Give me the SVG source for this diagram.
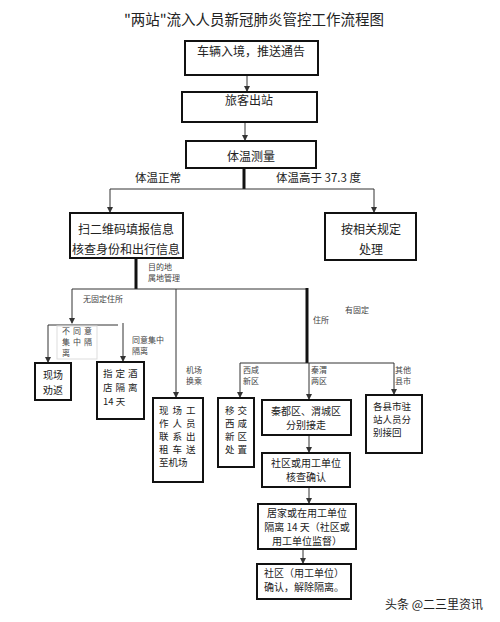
<svg xmlns="http://www.w3.org/2000/svg" width="500" height="622" viewBox="0 0 500 622">
<defs>
<marker id="ah" markerWidth="6" markerHeight="6" refX="5" refY="3" orient="auto" markerUnits="userSpaceOnUse">
<path d="M0,0 L6,3 L0,6 Z" fill="#333"/>
</marker>
<style>
.box{fill:#fff;stroke:#111;stroke-width:2}
.t{font-family:"Noto Sans CJK SC","Liberation Sans",sans-serif;fill:#222}
.m{font-size:12px;text-anchor:middle}
.s{font-size:10px;text-anchor:middle}
.sl{font-size:9.5px;text-anchor:start}
.l{font-size:8px;fill:#444}
.c{fill:none;stroke:#333;stroke-width:1}
.a{marker-end:url(#ah)}
.k{fill:none;stroke:#111;stroke-width:3}
</style>
</defs>
<rect width="500" height="622" fill="#fff"/>
<text class="t" x="254" y="25" font-size="14.5" text-anchor="middle">"两站"流入人员新冠肺炎管控工作流程图</text>

<g id="connectors">
<path class="c a" d="M247,75 V91"/>
<path class="c a" d="M245,122 V140"/>
<path class="k" d="M244,168 V189"/>
<path class="c" d="M110,189 H374"/>
<path class="c a" d="M110,189 V212"/>
<path class="c a" d="M374,189 V212"/>
<path class="k" d="M136,258 V289"/>
<path class="c" d="M72,289 H307"/>
<path class="c a" d="M72,289 V323"/>
<path class="c" d="M48,325 H118"/>
<path class="c a" d="M48,325 V362"/>
<path class="c a" d="M123,323 V361"/>
<path class="c a" d="M176,289 V397"/>
<path class="k" d="M307,288 V363"/>
<path class="c" d="M240,363 H394"/>
<path class="c a" d="M240,363 V397"/>
<path class="c a" d="M309,363 V399"/>
<path class="c a" d="M394,363 V394"/>
<path class="c a" d="M309,435 V452"/>
<path class="c a" d="M309,487 V503"/>
<path class="c a" d="M303,549 V563"/>
<rect x="57" y="326" width="40" height="33" fill="none" stroke="#ddd" stroke-width="1"/>
</g>

<g id="labels">
<text class="t" x="135" y="182" font-size="11.5">体温正常</text>
<text class="t" x="276" y="182" font-size="11.5">体温高于 37.3 度</text>
<text class="t l" x="148" y="270">目的地<tspan x="148" dy="11">属地管理</tspan></text>
<text class="t l" x="83" y="302">无固定住所</text>
<text class="t l" x="345" y="313">有固定</text>
<text class="t l" x="313" y="323">住所</text>
<text class="t l" x="62" y="334" letter-spacing="3">不同意<tspan x="62" dy="11">集中隔</tspan><tspan x="62" dy="11">离</tspan></text>
<text class="t l" x="132" y="343">同意集中<tspan x="132" dy="11">隔离</tspan></text>
<text class="t l" x="186" y="373">机场<tspan x="186" dy="11">换乘</tspan></text>
<text class="t l" x="243" y="373">西咸<tspan x="243" dy="11">新区</tspan></text>
<text class="t l" x="311" y="373">秦渭<tspan x="311" dy="11">两区</tspan></text>
<text class="t l" x="395" y="373">其他<tspan x="395" dy="11">县市</tspan></text>
</g>

<g id="n1"><rect class="box" x="185" y="41" width="133" height="34"/><text class="t m" x="251" y="56">车辆入境，推送通告</text></g>
<g id="n2"><rect class="box" x="182" y="92" width="135" height="30"/><text class="t m" x="249" y="105">旅客出站</text></g>
<g id="n3"><rect class="box" x="186" y="141" width="130" height="27"/><text class="t m" x="251" y="161">体温测量</text></g>
<g id="n4"><rect class="box" x="70" y="213" width="113" height="45"/><text class="t m" x="126" y="234">扫二维码填报信息<tspan x="126" dy="20">核查身份和出行信息</tspan></text></g>
<g id="n5"><rect class="box" x="325" y="213" width="91" height="47"/><text class="t m" x="371" y="234">按相关规定<tspan x="371" dy="20">处理</tspan></text></g>
<g id="n6"><rect class="box" x="35" y="363" width="36" height="37"/><text class="t s" x="53" y="379">现场<tspan x="53" dy="15">劝返</tspan></text></g>
<g id="n7"><rect class="box" x="97" y="362" width="47" height="57"/><text class="t sl" x="103" y="377" letter-spacing="3">指定酒<tspan x="103" dy="14">店隔离</tspan><tspan x="103" dy="14" letter-spacing="0">14 天</tspan></text></g>
<g id="n8"><rect class="box" x="153" y="398" width="50" height="84"/><text class="t sl" x="159" y="414" letter-spacing="4">现场工<tspan x="159" dy="13">作人员</tspan><tspan x="159" dy="13">联系出</tspan><tspan x="159" dy="13">租车送</tspan><tspan x="159" dy="13" letter-spacing="0">至机场</tspan></text></g>
<g id="n9"><rect class="box" x="218" y="398" width="36" height="69"/><text class="t sl" x="225" y="414" letter-spacing="3">移交<tspan x="225" dy="13">西咸</tspan><tspan x="225" dy="13">新区</tspan><tspan x="225" dy="13">处置</tspan></text></g>
<g id="n10"><rect class="box" x="262" y="400" width="89" height="35"/><text class="t s" x="306" y="415">秦都区、渭城区<tspan x="306" dy="14">分别接走</tspan></text></g>
<g id="n11"><rect class="box" x="366" y="395" width="56" height="58"/><text class="t sl" x="373" y="410">各县市驻<tspan x="373" dy="13">站人员分</tspan><tspan x="373" dy="13">别接回</tspan></text></g>
<g id="n12"><rect class="box" x="262" y="453" width="88" height="34"/><text class="t s" x="306" y="467">社区或用工单位<tspan x="306" dy="14">核查确认</tspan></text></g>
<g id="n13"><rect class="box" x="258" y="504" width="98" height="45"/><text class="t s" x="307" y="517">居家或在用工单位<tspan x="307" dy="14">隔离 14 天（社区或</tspan><tspan x="307" dy="14">用工单位监督）</tspan></text></g>
<g id="n14"><rect class="box" x="257" y="564" width="94" height="35"/><text class="t s" x="304" y="577">社区（用工单位）<tspan x="304" dy="14">确认，解除隔离。</tspan></text></g>

<text class="t" x="385" y="609" font-size="12" fill="#555">头条 @二三里资讯</text>
</svg>
